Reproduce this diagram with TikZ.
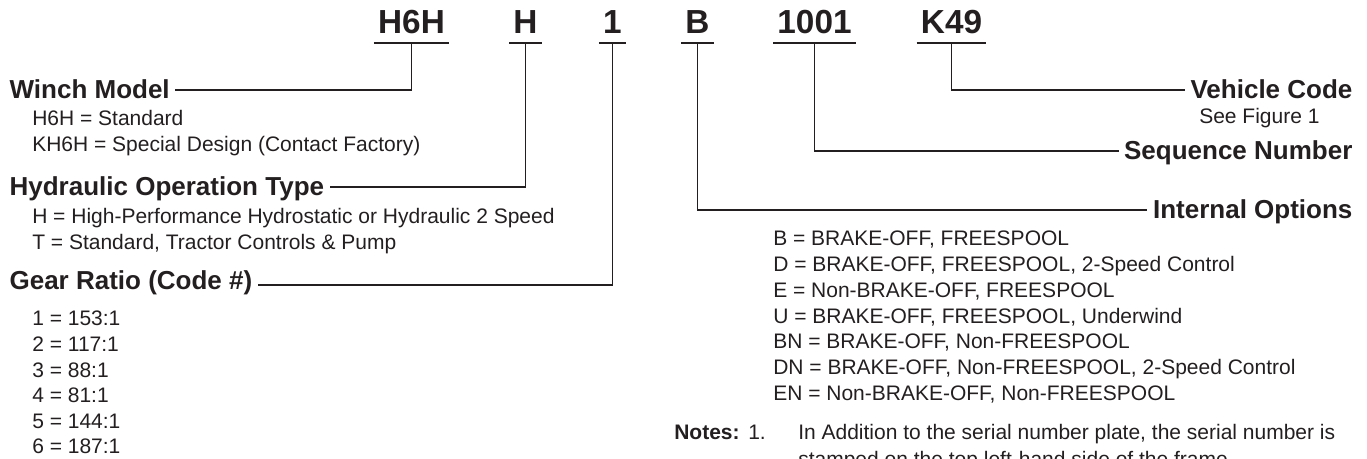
\documentclass[tikz,border=0pt]{standalone}
\usepackage{fontspec}
\setmainfont{Liberation Sans}
\definecolor{ink}{HTML}{231F20}
\tikzset{
  code/.style={font=\fontsize{25}{30}\selectfont\bfseries, text=ink, anchor=base, text height=18pt, text depth=0pt, inner xsep=3pt, inner ysep=6.75pt},
  head/.style={font=\fontsize{19.5}{23}\selectfont\bfseries, text=ink, text height=14pt, text depth=0pt, inner ysep=0pt, inner xsep=4pt},
  item/.style={font=\fontsize{15.75}{19.5}\selectfont, text=ink, anchor=base west, inner sep=0pt},
  lead/.style={draw=ink, line width=1.4pt}
}
\begin{document}
\begin{tikzpicture}[x=0.75pt, y=-0.75pt]
  \useasboundingbox (0,0) rectangle (1367,459);
  \clip (0,0) rectangle (1367,459);
  % Serial number parts
  \node[code] (part-1) at (411.5,34) {H6H};
  \node[code] (part-2) at (525.5,34) {H};
  \node[code] (part-3) at (612.5,34) {1};
  \node[code] (part-4) at (697.5,34) {B};
  \node[code] (part-5) at (814.5,34) {1001};
  \node[code] (part-6) at (951.5,34) {K49};
  \foreach \a in {1,...,6}
    \draw[lead] (part-\a.south west) -- (part-\a.south east);
  % Left headings
  \node[head, anchor=base west] (winch) at (4,99) {Winch Model};
  \node[head, anchor=base west] (hydraulic) at (4,196) {Hydraulic Operation Type};
  \node[head, anchor=base west] (gear) at (4,290) {Gear Ratio (Code \#)};
  % Right headings
  \node[head, anchor=base east] (vehicle) at (1358,99) {Vehicle Code};
  \node[head, anchor=base east] (sequence) at (1358,160) {Sequence Number};
  \node[head, anchor=base east] (internal) at (1358,219) {Internal Options};
  \node[item] (see-fig) at (1199,124) {See Figure 1};
  % Leaders
  \draw[lead] (part-1.south) |- (winch.east);
  \draw[lead] (part-2.south) |- (hydraulic.east);
  \draw[lead] (part-3.south) |- ([yshift=-3pt]gear.east);
  \draw[lead] (part-4.south) |- (internal.west);
  \draw[lead] (part-5.south) |- (sequence.west);
  \draw[lead] (part-6.south) |- (vehicle.west);
  % Option lists
  \foreach \t [count=\i] in {H6H = Standard, KH6H = Special Design (Contact Factory)}
    \node[item] (model-\i) at (32,100+26*\i) {\t};
  \foreach \t [count=\i] in {H = High-Performance Hydrostatic or Hydraulic 2 Speed, T = {Standard, Tractor Controls \& Pump}}
    \node[item] (type-\i) at (32,198+26*\i) {\t};
  \foreach \t [count=\i] in {1 = 153:1, 2 = 117:1, 3 = 88:1, 4 = 81:1, 5 = 144:1, 6 = 187:1}
    \node[item] (ratio-\i) at (32,300.4+25.6*\i) {\t};
  \foreach \t [count=\i] in {{B = BRAKE-OFF, FREESPOOL}, {D = BRAKE-OFF, FREESPOOL, 2-Speed Control}, {E = Non-BRAKE-OFF, FREESPOOL}, {U = BRAKE-OFF, FREESPOOL, Underwind}, {BN = BRAKE-OFF, Non-FREESPOOL}, {DN = BRAKE-OFF, Non-FREESPOOL, 2-Speed Control}, {EN = Non-BRAKE-OFF, Non-FREESPOOL}}
    \node[item] (option-\i) at (773,220.3+25.7*\i) {\t};
  % Notes
  \node[item, font=\fontsize{15.75}{19.5}\selectfont\bfseries] (notes) at (674,440) {Notes:};
  \node[item] (note-num) at (748,440) {1.};
  \node[item] (note-1) at (798,440) {In Addition to the serial number plate, the serial number is};
  \node[item] (note-2) at (798,466) {stamped on the top left-hand side of the frame.};
\end{tikzpicture}
\end{document}
